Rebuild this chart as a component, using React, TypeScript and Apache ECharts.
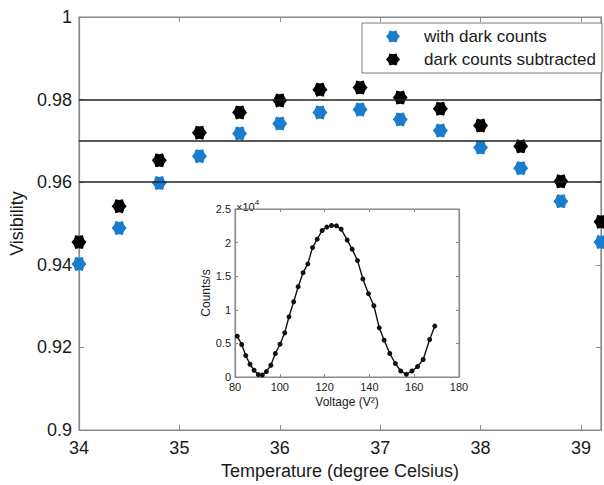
import React, { useEffect, useRef } from "react";
import * as echarts from "echarts";

// Main chart data
const temps = [34, 34.4, 34.8, 35.2, 35.6, 36, 36.4, 36.8, 37.2, 37.6, 38, 38.4, 38.8, 39.2];
const withDark = [0.9402, 0.9489, 0.9598, 0.9663, 0.9718, 0.9742, 0.9769, 0.9776, 0.9752, 0.9725, 0.9684, 0.9634, 0.9554, 0.9455];
const subtracted = [0.9455, 0.9542, 0.9653, 0.972, 0.9769, 0.9798, 0.9824, 0.9829, 0.9805, 0.9778, 0.9737, 0.9687, 0.9602, 0.9504];
const refLines = [0.96, 0.97, 0.98];

// Inset data
const voltages = [81.0, 83.0, 84.8, 86.7, 88.5, 90.4, 92.2, 94.0, 96.0, 98.0, 100.1, 102.2, 104.1, 106.2, 108.2, 110.4, 112.5, 114.6, 116.7, 118.9, 121.0, 123.1, 125.3, 127.4, 130.1, 132.3, 134.7, 137.1, 139.6, 142.0, 144.4, 146.6, 149.1, 151.6, 154.0, 156.5, 159.0, 161.5, 164.0, 166.9, 169.2];
const counts = [6076, 4833, 3190, 1896, 1000, 358, 299, 806, 1747, 3494, 4882, 6569, 8958, 11198, 13437, 15527, 16826, 19260, 20513, 21798, 22305, 22544, 22499, 22007, 20370, 19026, 17324, 14590, 12396, 10603, 7318, 5481, 3494, 2001, 896, 403, 896, 1550, 2599, 5585, 7572];

const seriesNames = ["with dark counts", "dark counts subtracted"];
const seriesColors = ["#1a7ccc", "#000000"];

const HEX = "path://M100,50 L82.9,31 L75,6.7 L50,12 L25,6.7 L17.1,31 L0,50 L17.1,69 L25,93.3 L50,88 L75,93.3 L82.9,69 Z";
const FONT = "'Liberation Sans', Arial, Helvetica, sans-serif";
const AXIS_GRAY = "#8a8a8a";
const TEXT = "#1a1a1a";

export default function App() {
  const ref = useRef<HTMLDivElement>(null);
  useEffect(() => {
    if (!ref.current) return;
    const chart = echarts.init(ref.current, undefined, { renderer: "svg" });
    const axisCommon = {
      axisLine: { show: true, onZero: false, lineStyle: { color: AXIS_GRAY, width: 1.2 } },
      axisTick: { show: true, inside: true, length: 5, lineStyle: { color: AXIS_GRAY } },
      splitLine: { show: false },
    };
    const smallTick = { show: true, inside: true, length: 3, lineStyle: { color: AXIS_GRAY } };
    const option: any = {
      animation: false,
      backgroundColor: "#ffffff",
      textStyle: { fontFamily: FONT },
      grid: [
        { left: 79, top: 17, width: 523, height: 415, show: true, borderColor: AXIS_GRAY, borderWidth: 1.2 },
        { left: 235, top: 209, width: 224, height: 168, show: true, backgroundColor: "#ffffff", borderColor: AXIS_GRAY, borderWidth: 1 },
      ],
      legend: {
        left: 362,
        top: 23,
        orient: "vertical",
        itemWidth: 14,
        itemHeight: 14,
        itemGap: 6,
        padding: [5, 6, 5, 24],
        borderColor: "#7a7a7a",
        borderWidth: 1,
        backgroundColor: "#ffffff",
        textStyle: { fontSize: 17, fontFamily: FONT, color: TEXT, padding: [0, 0, 0, 19] },
        data: seriesNames.map((n) => ({ name: n, icon: HEX })),
      },
      xAxis: [
        {
          ...axisCommon,
          gridIndex: 0,
          type: "value",
          min: 34,
          max: 39.2,
          interval: 1,
          name: "Temperature (degree Celsius)",
          nameLocation: "middle",
          nameGap: 32,
          nameTextStyle: { fontSize: 18, color: TEXT, fontFamily: FONT },
          axisLabel: {
            fontSize: 18,
            color: TEXT,
            margin: 9,
            formatter: (v: number) => (Math.abs(v - Math.round(v)) < 1e-6 ? String(Math.round(v)) : ""),
          },
        },
        {
          ...axisCommon,
          gridIndex: 0,
          type: "value",
          position: "top",
          min: 34,
          max: 39.2,
          interval: 1,
          axisLabel: { show: false },
        },
        {
          ...axisCommon,
          gridIndex: 1,
          type: "value",
          min: 80,
          max: 180,
          interval: 20,
          name: "Voltage (V²)",
          nameLocation: "middle",
          nameGap: 19,
          nameTextStyle: { fontSize: 12, color: TEXT, fontFamily: FONT },
          axisTick: smallTick,
          axisLabel: { fontSize: 11, color: TEXT, margin: 4 },
        },
        {
          ...axisCommon,
          gridIndex: 1,
          type: "value",
          position: "top",
          min: 80,
          max: 180,
          interval: 20,
          axisTick: smallTick,
          axisLabel: { show: false },
        },
      ],
      yAxis: [
        {
          ...axisCommon,
          gridIndex: 0,
          type: "value",
          min: 0.9,
          max: 1,
          interval: 0.02,
          name: "Visibility",
          nameLocation: "middle",
          nameGap: 52,
          nameTextStyle: { fontSize: 18, color: TEXT, fontFamily: FONT },
          axisLabel: {
            fontSize: 18,
            color: TEXT,
            margin: 7,
            formatter: (v: number) => String(+v.toFixed(2)),
          },
        },
        {
          ...axisCommon,
          gridIndex: 0,
          type: "value",
          position: "right",
          min: 0.9,
          max: 1,
          interval: 0.02,
          axisLabel: { show: false },
        },
        {
          ...axisCommon,
          gridIndex: 1,
          type: "value",
          min: 0,
          max: 25000,
          interval: 5000,
          name: "Counts/s",
          nameLocation: "middle",
          nameGap: 22,
          nameTextStyle: { fontSize: 12, color: TEXT, fontFamily: FONT },
          axisTick: smallTick,
          axisLabel: { fontSize: 11, color: TEXT, margin: 4, formatter: (v: number) => String(v / 10000) },
        },
        {
          ...axisCommon,
          gridIndex: 1,
          type: "value",
          position: "right",
          min: 0,
          max: 25000,
          interval: 5000,
          axisTick: smallTick,
          axisLabel: { show: false },
        },
      ],
      graphic: [
        {
          type: "text",
          left: 236,
          top: 198,
          style: {
            text: "{a|×10}{b|4}",
            rich: {
              a: { fontSize: 11, fontFamily: FONT, fill: TEXT, verticalAlign: "bottom" },
              b: { fontSize: 8, fontFamily: FONT, fill: TEXT, verticalAlign: "top", padding: [0, 0, 6, 0] },
            },
          },
        },
      ],
      series: [
        {
          name: "refLines",
          type: "line",
          xAxisIndex: 0,
          yAxisIndex: 0,
          data: [],
          markLine: {
            silent: true,
            symbol: "none",
            label: { show: false },
            lineStyle: { color: "#222222", width: 1.5, type: "solid" },
            data: refLines.map((v) => ({ yAxis: v })),
          },
        },
        {
          name: seriesNames[0],
          type: "scatter",
          xAxisIndex: 0,
          yAxisIndex: 0,
          symbol: HEX,
          symbolSize: [15, 14],
          itemStyle: { color: seriesColors[0], opacity: 1 },
          data: temps.map((t, i) => [t, withDark[i]]),
          z: 3,
        },
        {
          name: seriesNames[1],
          type: "scatter",
          xAxisIndex: 0,
          yAxisIndex: 0,
          symbol: HEX,
          symbolSize: [15, 14],
          itemStyle: { color: seriesColors[1], opacity: 1 },
          data: temps.map((t, i) => [t, subtracted[i]]),
          z: 3,
        },
        {
          name: "inset",
          type: "line",
          xAxisIndex: 2,
          yAxisIndex: 2,
          symbol: "circle",
          symbolSize: 5,
          lineStyle: { color: "#111111", width: 1.4 },
          itemStyle: { color: "#111111" },
          data: voltages.map((v, i) => [v, counts[i]]),
          z: 4,
        },
      ],
    };
    chart.setOption(option);
    return () => chart.dispose();
  }, []);
  return <div ref={ref} style={{ position: "fixed", left: 0, top: 0, width: 604, height: 485 }} />;
}
